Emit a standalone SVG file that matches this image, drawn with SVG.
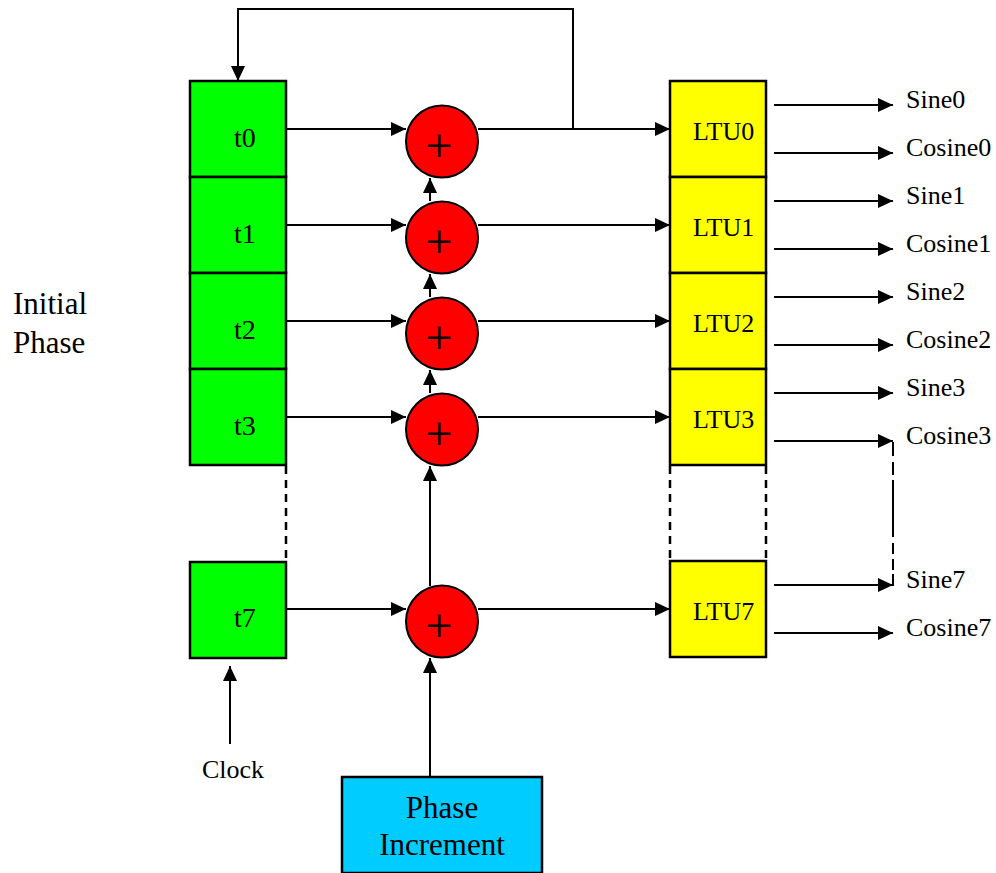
<svg xmlns="http://www.w3.org/2000/svg" width="996" height="873" viewBox="0 0 996 873" font-family="'Liberation Serif', 'Times New Roman', serif">
<defs>
<marker id="ah" markerUnits="userSpaceOnUse" markerWidth="15" markerHeight="14" refX="15" refY="7" orient="auto">
<path d="M0,0 L15,7 L0,14 z" fill="#000"/>
</marker>
<style>
.reg{fill:#00FF00;stroke:#000;stroke-width:2.5}
.ltu{fill:#FFFF00;stroke:#000;stroke-width:2.5}
.add{fill:#FF0000;stroke:#000;stroke-width:2}
.pi{fill:#00CCFF;stroke:#000;stroke-width:2.5}
.ln{fill:none;stroke:#000;stroke-width:2}
.arr{fill:none;stroke:#000;stroke-width:2;marker-end:url(#ah)}
.dash{fill:none;stroke:#000;stroke-width:2.5;stroke-dasharray:8 6}
.t{fill:#000}
.s26{font-size:26px}
.s28{font-size:28px}
.s31{font-size:31px}
.plus{font-size:48px;text-anchor:middle;fill:#000}
</style>
</defs>
<rect width="996" height="873" fill="#fff"/>

<g id="connectors">
<path class="arr" d="M573,129 V9 H238 V81"/>
<path class="arr" d="M286,129 H406"/>
<path class="arr" d="M286,225 H406"/>
<path class="arr" d="M286,321 H406"/>
<path class="arr" d="M286,417 H406"/>
<path class="arr" d="M286,609 H406"/>
<path class="arr" d="M478,129 H670"/>
<path class="arr" d="M478,225 H670"/>
<path class="arr" d="M478,321 H670"/>
<path class="arr" d="M478,417 H670"/>
<path class="arr" d="M478,609 H670"/>
<path class="arr" d="M430,201 V178"/>
<path class="arr" d="M430,297 V274"/>
<path class="arr" d="M430,393 V370"/>
<path class="arr" d="M430,586 V466"/>
<path class="arr" d="M430,777 V658"/>
<path class="arr" d="M230,744 V666"/>
<path class="arr" d="M774,105 H893"/>
<path class="arr" d="M774,153 H893"/>
<path class="arr" d="M774,201 H893"/>
<path class="arr" d="M774,249 H893"/>
<path class="arr" d="M774,297 H893"/>
<path class="arr" d="M774,345 H893"/>
<path class="arr" d="M774,393 H893"/>
<path class="arr" d="M774,441 H893"/>
<path class="arr" d="M774,585 H893"/>
<path class="arr" d="M774,633 H893"/>
<path class="ln" d="M893,442 V586" stroke-dasharray="14 6 13 5 57 6 11 5 11 4"/>
<path class="dash" d="M286,466 V561"/>
<path class="dash" d="M670,466 V561"/>
<path class="dash" d="M766,466 V561"/>
</g>

<g id="t0"><rect class="reg" x="190" y="81" width="96" height="96"/><text class="t s28" x="234" y="147">t0</text></g>
<g id="t1"><rect class="reg" x="190" y="177" width="96" height="96"/><text class="t s28" x="234" y="243">t1</text></g>
<g id="t2"><rect class="reg" x="190" y="273" width="96" height="96"/><text class="t s28" x="234" y="339">t2</text></g>
<g id="t3"><rect class="reg" x="190" y="369" width="96" height="96"/><text class="t s28" x="234" y="435">t3</text></g>
<g id="t7"><rect class="reg" x="190" y="562" width="96" height="96"/><text class="t s28" x="234" y="627">t7</text></g>

<g id="add0"><circle class="add" cx="442" cy="141.5" r="36"/><text class="plus" x="439" y="162">+</text></g>
<g id="add1"><circle class="add" cx="442" cy="237.5" r="36"/><text class="plus" x="439" y="258">+</text></g>
<g id="add2"><circle class="add" cx="442" cy="333.5" r="36"/><text class="plus" x="439" y="354">+</text></g>
<g id="add3"><circle class="add" cx="442" cy="429.5" r="36"/><text class="plus" x="439" y="450">+</text></g>
<g id="add7"><circle class="add" cx="442" cy="621.5" r="36"/><text class="plus" x="439" y="642">+</text></g>

<g id="ltu0"><rect class="ltu" x="670" y="81" width="96" height="96"/><text class="t s26" x="693" y="140">LTU0</text></g>
<g id="ltu1"><rect class="ltu" x="670" y="177" width="96" height="96"/><text class="t s26" x="693" y="236">LTU1</text></g>
<g id="ltu2"><rect class="ltu" x="670" y="273" width="96" height="96"/><text class="t s26" x="693" y="332">LTU2</text></g>
<g id="ltu3"><rect class="ltu" x="670" y="369" width="96" height="96"/><text class="t s26" x="693" y="428">LTU3</text></g>
<g id="ltu7"><rect class="ltu" x="670" y="561" width="96" height="96"/><text class="t s26" x="693" y="620">LTU7</text></g>

<g id="phase-increment"><rect class="pi" x="342" y="777" width="200" height="96"/>
<text class="t s31" x="442" y="818" text-anchor="middle">Phase</text>
<text class="t s31" x="442" y="855" text-anchor="middle">Increment</text></g>

<g id="initial-phase"><text class="t s31" x="13" y="314">Initial</text><text class="t s31" x="13" y="353">Phase</text></g>
<g id="clock"><text class="t s26" x="202" y="778">Clock</text></g>

<g id="outputs">
<text class="t s26" x="906" y="108">Sine0</text>
<text class="t s26" x="906" y="156">Cosine0</text>
<text class="t s26" x="906" y="204">Sine1</text>
<text class="t s26" x="906" y="252">Cosine1</text>
<text class="t s26" x="906" y="300">Sine2</text>
<text class="t s26" x="906" y="348">Cosine2</text>
<text class="t s26" x="906" y="396">Sine3</text>
<text class="t s26" x="906" y="444">Cosine3</text>
<text class="t s26" x="906" y="588">Sine7</text>
<text class="t s26" x="906" y="636">Cosine7</text>
</g>
</svg>
